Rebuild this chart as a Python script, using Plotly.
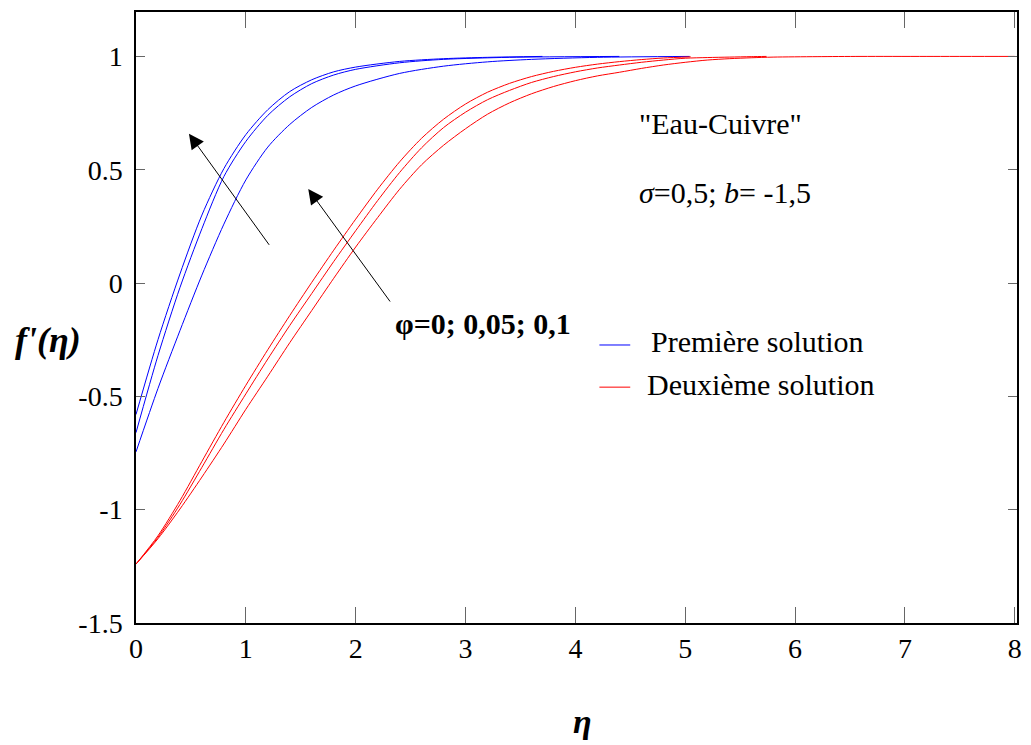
import plotly.graph_objects as go

# ---- data ----
eta_b1 = [0, 0.2, 0.4, 0.6, 0.8, 1.0, 1.2, 1.4, 1.6, 1.8, 2.0, 2.4, 2.8, 3.2, 3.7]
fp_b1 = [-0.58, -0.25, 0.04, 0.30, 0.505, 0.655, 0.765, 0.845, 0.897, 0.932, 0.953, 0.978, 0.99, 0.996, 1.0]
eta_b2 = [0, 0.2, 0.4, 0.6, 0.8, 1.0, 1.2, 1.4, 1.6, 1.8, 2.0, 2.4, 2.8, 3.4, 4.4]
fp_b2 = [-0.66, -0.32, -0.02, 0.24, 0.47, 0.625, 0.74, 0.822, 0.88, 0.918, 0.943, 0.972, 0.987, 0.996, 1.0]
eta_b3 = [0, 0.2, 0.4, 0.6, 0.8, 1.0, 1.2, 1.4, 1.6, 1.8, 2.0, 2.4, 2.8, 3.2, 3.6, 4.2, 5.04]
fp_b3 = [-0.745, -0.465, -0.21, 0.035, 0.26, 0.455, 0.6, 0.7, 0.775, 0.83, 0.87, 0.925, 0.957, 0.976, 0.987, 0.996, 1.0]

eta_r1 = [0, 0.2, 0.4, 0.6, 0.8, 1.0, 1.2, 1.4, 1.6, 1.8, 2.0, 2.2, 2.4, 2.6, 2.8, 3.0,
          3.2, 3.4, 3.6, 3.8, 4.0, 4.2, 4.4, 4.6, 4.8, 5.05]
fp_r1 = [-1.24, -1.115, -0.96, -0.787, -0.615, -0.451, -0.294, -0.143, 0.003, 0.145, 0.282, 0.414,
         0.535, 0.639, 0.723, 0.790, 0.842, 0.881, 0.911, 0.934, 0.952, 0.966, 0.977, 0.986, 0.993, 0.998]
eta_r2 = [0, 0.2, 0.4, 0.6, 0.8, 1.0, 1.2, 1.4, 1.6, 1.8, 2.0, 2.2, 2.4, 2.6, 2.8, 3.0,
          3.2, 3.4, 3.6, 3.8, 4.0, 4.2, 4.4, 4.6, 4.8, 5.0, 5.2, 5.4, 5.6, 5.74]
fp_r2 = [-1.24, -1.122, -0.977, -0.813, -0.646, -0.489, -0.335, -0.187, -0.046, 0.095, 0.231, 0.364,
         0.488, 0.597, 0.686, 0.754, 0.809, 0.850, 0.885, 0.911, 0.932, 0.949, 0.962, 0.974, 0.984,
         0.992, 0.995, 0.997, 0.999, 1.0]
eta_r3 = [0, 0.2, 0.4, 0.6, 0.8, 1.0, 1.2, 1.4, 1.6, 1.8, 2.0, 2.2, 2.4, 2.6, 2.8, 3.0,
          3.2, 3.4, 3.6, 3.8, 4.0, 4.2, 4.4, 4.6, 4.8, 5.0, 5.2, 5.4, 5.6, 5.8, 6.2, 6.6, 7.2, 8.0]
fp_r3 = [-1.24, -1.128, -0.997, -0.856, -0.71, -0.557, -0.411, -0.263, -0.121, 0.021, 0.159, 0.289,
         0.414, 0.522, 0.608, 0.681, 0.745, 0.795, 0.835, 0.867, 0.893, 0.914, 0.930, 0.947, 0.962,
         0.974, 0.984, 0.990, 0.994, 0.997, 0.999, 1.0, 1.0, 1.0]

x_ticks = [0, 1, 2, 3, 4, 5, 6, 7, 8]
x_ticktext = ["0", "1", "2", "3", "4", "5", "6", "7", "8"]
y_ticks = [-1.5, -1, -0.5, 0, 0.5, 1]
y_ticktext = ["-1.5", "-1", "-0.5", "0", "0.5", "1"]
legend_names = ["Première solution", "Deuxième solution"]

BLUE = "#0000ff"
RED = "#ff0000"
FONT = "Liberation Serif"

fig = go.Figure()
blue = [(eta_b1, fp_b1), (eta_b2, fp_b2), (eta_b3, fp_b3)]
red = [(eta_r1, fp_r1), (eta_r2, fp_r2), (eta_r3, fp_r3)]
for i, (x, y) in enumerate(blue):
    fig.add_trace(go.Scatter(x=x, y=y, mode="lines", line=dict(color=BLUE, width=1, shape="spline", smoothing=0.8),
                             name=legend_names[0], legendgroup="b", showlegend=False))
for i, (x, y) in enumerate(red):
    fig.add_trace(go.Scatter(x=x, y=y, mode="lines", line=dict(color=RED, width=1, shape="spline", smoothing=0.8),
                             name=legend_names[1], legendgroup="r", showlegend=False))

axis_common = dict(showgrid=False, zeroline=False, showline=True, linecolor="black", linewidth=1.5,
                   mirror="ticks", ticks="inside", tickcolor="#666666", tickwidth=1,
                   tickfont=dict(family=FONT, size=28, color="black"))
fig.update_xaxes(range=[0, 8.02], tickvals=x_ticks, ticktext=x_ticktext, ticklen=16, **axis_common)
fig.update_yaxes(range=[-1.5, 1.196], tickvals=y_ticks, ticktext=y_ticktext, ticklen=9,
                 ticklabelstandoff=6, **axis_common)

annos = [
    dict(x=0.482, y=0.659, ax=1.222, ay=0.162, xref="x", yref="y", axref="x", ayref="y",
         showarrow=True, arrowhead=2, arrowsize=3, arrowwidth=1, arrowcolor="black", text=""),
    dict(x=1.568, y=0.415, ax=2.323, ay=-0.088, xref="x", yref="y", axref="x", ayref="y",
         showarrow=True, arrowhead=2, arrowsize=3, arrowwidth=1, arrowcolor="black", text=""),
    dict(x=2.335, y=-0.179, xref="x", yref="y", xanchor="left", yanchor="middle", showarrow=False,
         text="<b>φ=0; 0,05; 0,1</b>", font=dict(family=FONT, size=30, color="black")),
    dict(x=4.562, y=0.703, xref="x", yref="y", xanchor="left", yanchor="middle", showarrow=False,
         text="\"Eau-Cuivre\"", font=dict(family=FONT, size=30, color="black")),
    dict(x=4.562, y=0.399, xref="x", yref="y", xanchor="left", yanchor="middle", showarrow=False,
         text="<i>σ</i>=0,5; <i>b</i>= -1,5", font=dict(family=FONT, size=30, color="black")),
    dict(x=-0.1, y=0.463, xref="paper", yref="paper", xanchor="center", yanchor="middle", showarrow=False,
         text="<b><i>f'(η)</i></b>", font=dict(family=FONT, size=36, color="black")),
    dict(x=0.507, y=-0.162, xref="paper", yref="paper", xanchor="center", yanchor="middle", showarrow=False,
         text="<b><i>η</i></b>", font=dict(family=FONT, size=34, color="black")),
    # legend texts
    dict(x=0.5824, y=0.460, xref="paper", yref="paper", xanchor="left", yanchor="middle", showarrow=False,
         text=legend_names[0], font=dict(family=FONT, size=30, color="black")),
    dict(x=0.5779, y=0.391, xref="paper", yref="paper", xanchor="left", yanchor="middle", showarrow=False,
         text=legend_names[1], font=dict(family=FONT, size=30, color="black")),
]

legend_shapes = [
    dict(type="line", xref="paper", yref="paper", x0=0.526, x1=0.561, y0=0.455, y1=0.455,
         line=dict(color=BLUE, width=1)),
    dict(type="line", xref="paper", yref="paper", x0=0.526, x1=0.561, y0=0.386, y1=0.386,
         line=dict(color=RED, width=1)),
]

fig.update_layout(
    width=1031, height=745,
    margin=dict(l=136, r=9, t=12, b=122),
    paper_bgcolor="white", plot_bgcolor="white",
    showlegend=False,
    annotations=annos,
    shapes=legend_shapes,
)

fig.write_html("out.html")
